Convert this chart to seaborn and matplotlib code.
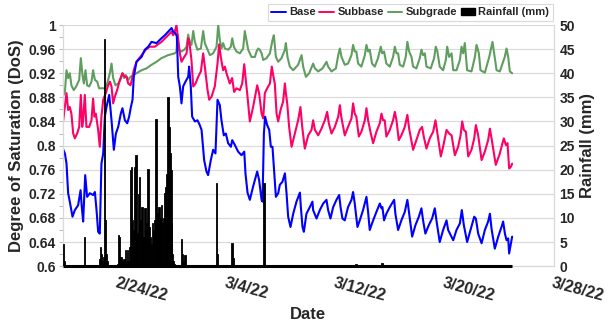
import numpy as np
import pandas as pd
import matplotlib
matplotlib.use('Agg')
import matplotlib.pyplot as plt
import matplotlib.dates as mdates
from matplotlib.lines import Line2D
from matplotlib.patches import Patch
from matplotlib.ticker import MultipleLocator, FuncFormatter
import seaborn as sns

# days since 2/20/22 00:00
START = pd.Timestamp('2022-02-20')

base_days = [0.0, 0.15, 0.27, 0.39, 0.51, 0.71, 0.88, 1.12, 1.30, 1.39, 1.49, 1.64, 1.78, 1.98,
             2.22, 2.35, 2.47, 2.59, 2.71, 2.83, 2.96, 3.08, 3.20, 3.40, 3.57, 3.74, 3.89, 4.06,
             4.25, 4.37, 4.55, 4.72, 4.86, 4.99, 5.11, 5.20, 5.40, 5.77, 6.01, 6.26, 6.50, 6.87,
             7.23, 7.48, 7.72, 7.97, 8.09, 8.26, 8.36, 8.46, 8.58, 8.70, 8.82, 8.99, 9.19, 9.26,
             9.38, 9.48, 9.68, 9.87, 10.04, 10.17, 10.36, 10.53, 10.65, 10.85, 11.02, 11.19,
             11.34, 11.51, 11.63, 11.80, 11.95, 12.12, 12.32, 12.42, 12.61, 12.85, 13.10, 13.30,
             13.39, 13.54, 13.71, 13.95, 14.25, 14.39, 14.57, 14.64, 14.74, 14.83, 14.98, 15.13,
             15.25, 15.37, 15.47, 15.62, 15.79, 15.91, 16.10, 16.28, 16.40, 16.52, 16.69, 16.89,
             17.13, 17.38, 17.45, 17.57, 17.67, 17.86, 18.11, 18.30, 18.35, 18.60, 18.84, 19.09,
             19.33, 19.45, 19.62, 19.82, 20.06, 20.26, 20.36, 20.50, 20.67, 20.91, 21.16, 21.28,
             21.40, 21.60, 21.77, 22.01, 22.26, 22.38, 22.50, 22.75, 22.99, 23.24, 23.36, 23.43,
             23.55, 23.72, 23.97, 24.29, 24.38, 24.58, 24.82, 25.07, 25.26, 25.39, 25.61, 25.85,
             26.10, 26.29, 26.41, 26.58, 26.83, 27.07, 27.27, 27.39, 27.63, 27.88, 28.13, 28.25,
             28.62, 28.86, 29.11, 29.25, 29.40, 29.64, 29.89, 30.16, 30.28, 30.45, 30.70, 30.94,
             31.18, 31.31, 31.43, 31.67, 31.92, 32.16, 32.28, 32.41, 32.53, 32.65, 32.72, 32.85,
             32.94]
base_dos = [0.795, 0.787, 0.770, 0.721, 0.707, 0.682, 0.693, 0.701, 0.726, 0.698, 0.674, 0.751,
            0.715, 0.721, 0.718, 0.723, 0.693, 0.657, 0.654, 0.770, 0.787, 0.848, 0.864, 0.884,
            0.842, 0.793, 0.820, 0.831, 0.853, 0.862, 0.842, 0.837, 0.848, 0.864, 0.876, 0.914,
            0.939, 0.947, 0.959, 0.964, 0.972, 0.970, 0.978, 0.983, 0.989, 0.995, 0.989, 0.986,
            0.981, 0.914, 0.898, 0.870, 0.898, 0.906, 0.914, 0.931, 0.898, 0.848, 0.840, 0.842,
            0.834, 0.826, 0.776, 0.757, 0.751, 0.776, 0.793, 0.787, 0.876, 0.867, 0.842, 0.817,
            0.820, 0.804, 0.798, 0.809, 0.801, 0.790, 0.784, 0.790, 0.754, 0.722, 0.710, 0.732,
            0.757, 0.743, 0.710, 0.707, 0.820, 0.848, 0.834, 0.826, 0.798, 0.798, 0.765, 0.715,
            0.721, 0.735, 0.740, 0.754, 0.721, 0.682, 0.665, 0.687, 0.707, 0.722, 0.698, 0.665,
            0.657, 0.687, 0.698, 0.707, 0.693, 0.679, 0.693, 0.704, 0.710, 0.693, 0.679, 0.698,
            0.710, 0.718, 0.698, 0.679, 0.676, 0.698, 0.710, 0.723, 0.704, 0.665, 0.676, 0.693,
            0.715, 0.690, 0.660, 0.676, 0.690, 0.704, 0.696, 0.698, 0.676, 0.687, 0.698, 0.710,
            0.687, 0.660, 0.676, 0.690, 0.710, 0.687, 0.649, 0.668, 0.682, 0.696, 0.676, 0.654,
            0.668, 0.679, 0.696, 0.676, 0.640, 0.660, 0.676, 0.660, 0.643, 0.660, 0.671, 0.693,
            0.668, 0.640, 0.660, 0.682, 0.679, 0.654, 0.638, 0.660, 0.674, 0.687, 0.662, 0.629,
            0.649, 0.665, 0.674, 0.654, 0.643, 0.646, 0.621, 0.638, 0.649]

subbase_days = [0.0, 0.15, 0.27, 0.39, 0.51, 0.63, 0.76, 0.88, 1.05, 1.20, 1.32, 1.42, 1.49, 1.61,
                1.73, 1.93, 2.10, 2.22, 2.32, 2.42, 2.59, 2.71, 2.83, 2.96, 3.15, 3.32, 3.45, 3.57,
                3.69, 3.81, 3.98, 4.18, 4.37, 4.55, 4.67, 4.79, 4.96, 5.11, 5.20, 5.40, 5.77, 6.08,
                6.38, 6.74, 7.23, 7.72, 7.97, 8.09, 8.21, 8.33, 8.46, 8.58, 8.70, 8.90, 9.07, 9.19,
                9.26, 9.43, 9.56, 9.73, 9.92, 10.12, 10.29, 10.41, 10.61, 10.73, 10.90, 11.14,
                11.34, 11.46, 11.58, 11.75, 11.88, 12.00, 12.24, 12.41, 12.56, 12.73, 12.98, 13.15,
                13.30, 13.39, 13.54, 13.71, 13.95, 14.25, 14.39, 14.57, 14.69, 14.81, 14.98, 15.18,
                15.32, 15.42, 15.54, 15.67, 15.79, 15.96, 16.15, 16.28, 16.35, 16.45, 16.59, 16.77,
                17.01, 17.25, 17.42, 17.55, 17.74, 17.99, 18.23, 18.35, 18.48, 18.72, 18.96, 19.21,
                19.38, 19.50, 19.70, 19.94, 20.19, 20.31, 20.41, 20.55, 20.67, 20.91, 21.16, 21.28,
                21.40, 21.52, 21.70, 21.89, 22.14, 22.26, 22.38, 22.58, 22.75, 22.99, 23.24, 23.36,
                23.48, 23.60, 23.72, 23.97, 24.21, 24.34, 24.46, 24.63, 24.82, 25.07, 25.26, 25.39,
                25.68, 25.92, 26.17, 26.34, 26.46, 26.66, 26.90, 27.15, 27.32, 27.46, 27.71, 27.88,
                28.13, 28.32, 28.50, 28.74, 28.98, 29.16, 29.28, 29.40, 29.55, 29.72, 29.96, 30.16,
                30.28, 30.45, 30.70, 30.94, 31.18, 31.31, 31.43, 31.74, 32.04, 32.23, 32.33, 32.48,
                32.60, 32.72, 32.85, 32.94]
subbase_dos = [0.837, 0.864, 0.887, 0.859, 0.864, 0.853, 0.820, 0.812, 0.820, 0.831, 0.884, 0.831,
               0.842, 0.884, 0.831, 0.831, 0.842, 0.878, 0.848, 0.853, 0.826, 0.798, 0.848, 0.876,
               0.887, 0.900, 0.906, 0.898, 0.870, 0.881, 0.892, 0.909, 0.920, 0.914, 0.914, 0.903,
               0.900, 0.914, 0.925, 0.939, 0.950, 0.959, 0.964, 0.964, 0.972, 0.983, 0.989, 0.983,
               0.989, 1.000, 0.975, 0.953, 0.939, 0.947, 0.953, 0.978, 0.975, 0.942, 0.898, 0.903,
               0.914, 0.923, 0.953, 0.931, 0.892, 0.876, 0.881, 0.898, 0.936, 0.968, 0.947, 0.925,
               0.931, 0.920, 0.903, 0.912, 0.889, 0.895, 0.892, 0.903, 0.935, 0.914, 0.881, 0.840,
               0.864, 0.900, 0.887, 0.853, 0.845, 0.887, 0.895, 0.903, 0.931, 0.917, 0.903, 0.853,
               0.840, 0.859, 0.873, 0.903, 0.887, 0.870, 0.831, 0.798, 0.820, 0.842, 0.864, 0.831,
               0.795, 0.817, 0.826, 0.842, 0.826, 0.817, 0.828, 0.842, 0.856, 0.837, 0.820, 0.831,
               0.848, 0.867, 0.848, 0.831, 0.817, 0.831, 0.845, 0.870, 0.853, 0.848, 0.815, 0.823,
               0.842, 0.862, 0.842, 0.820, 0.804, 0.823, 0.837, 0.853, 0.842, 0.842, 0.815, 0.826,
               0.842, 0.856, 0.842, 0.809, 0.817, 0.831, 0.851, 0.828, 0.793, 0.809, 0.826, 0.831,
               0.815, 0.795, 0.812, 0.823, 0.842, 0.820, 0.782, 0.798, 0.826, 0.820, 0.817, 0.784,
               0.798, 0.817, 0.840, 0.826, 0.823, 0.782, 0.793, 0.812, 0.834, 0.817, 0.776, 0.790,
               0.809, 0.828, 0.812, 0.768, 0.787, 0.804, 0.812, 0.801, 0.804, 0.762, 0.765, 0.770]

subgrade_days = [0.0, 0.15, 0.27, 0.39, 0.51, 0.63, 0.80, 0.98, 1.20, 1.32, 1.44, 1.54, 1.66, 1.78,
                 1.93, 2.10, 2.22, 2.35, 2.52, 2.66, 2.91, 3.08, 3.25, 3.45, 3.57, 3.69, 3.86, 4.06,
                 4.23, 4.37, 4.50, 4.62, 4.79, 4.96, 5.16, 5.40, 5.77, 6.13, 6.50, 6.87, 7.23, 7.72,
                 8.21, 8.33, 8.41, 8.50, 8.70, 8.90, 9.07, 9.19, 9.31, 9.43, 9.56, 9.68, 9.87, 10.12,
                 10.29, 10.41, 10.61, 10.78, 11.02, 11.27, 11.39, 11.51, 11.63, 11.75, 11.88, 12.12,
                 12.32, 12.42, 12.54, 12.73, 12.98, 13.22, 13.34, 13.46, 13.59, 13.83, 14.08, 14.20,
                 14.32, 14.44, 14.57, 14.69, 14.93, 15.18, 15.37, 15.47, 15.62, 15.79, 16.03, 16.28,
                 16.35, 16.47, 16.64, 16.89, 17.25, 17.50, 17.62, 17.82, 18.06, 18.35, 18.48, 18.72,
                 19.04, 19.33, 19.45, 19.70, 20.02, 20.19, 20.31, 20.43, 20.67, 20.91, 21.16, 21.28,
                 21.40, 21.52, 21.65, 21.89, 22.14, 22.26, 22.38, 22.50, 22.67, 22.87, 23.11, 23.31,
                 23.41, 23.55, 23.72, 23.97, 24.21, 24.34, 24.46, 24.58, 24.70, 24.95, 25.14, 25.26,
                 25.39, 25.56, 25.68, 25.92, 26.17, 26.29, 26.41, 26.54, 26.66, 26.97, 27.22, 27.34,
                 27.46, 27.63, 27.88, 28.08, 28.18, 28.32, 28.50, 28.62, 28.86, 29.11, 29.23, 29.35,
                 29.47, 29.64, 29.96, 30.21, 30.33, 30.50, 30.62, 30.94, 31.26, 31.50, 31.62, 31.80,
                 32.04, 32.40, 32.53, 32.65, 32.77, 32.94]
subgrade_dos = [0.881, 0.889, 0.925, 0.912, 0.920, 0.900, 0.892, 0.898, 0.909, 0.945, 0.917, 0.903,
                0.925, 0.900, 0.898, 0.906, 0.925, 0.909, 0.906, 0.895, 0.895, 0.895, 0.903, 0.920,
                0.936, 0.912, 0.900, 0.903, 0.909, 0.920, 0.912, 0.917, 0.909, 0.914, 0.917, 0.920,
                0.925, 0.928, 0.934, 0.939, 0.945, 0.950, 0.953, 0.956, 0.984, 0.959, 0.956, 0.959,
                0.964, 0.984, 0.970, 0.967, 0.990, 0.972, 0.959, 0.961, 0.990, 0.970, 0.959, 0.950,
                0.953, 0.964, 1.000, 0.975, 0.961, 0.970, 0.961, 0.959, 0.964, 0.978, 0.964, 0.956,
                0.953, 0.961, 0.990, 0.975, 0.959, 0.947, 0.947, 0.956, 0.961, 0.959, 0.953, 0.942,
                0.945, 0.953, 0.975, 0.983, 0.947, 0.939, 0.945, 0.959, 0.970, 0.947, 0.931, 0.925,
                0.934, 0.950, 0.931, 0.914, 0.920, 0.936, 0.928, 0.923, 0.928, 0.939, 0.931, 0.923,
                0.928, 0.950, 0.961, 0.947, 0.934, 0.936, 0.950, 0.967, 0.956, 0.956, 0.936, 0.931,
                0.950, 0.967, 0.956, 0.959, 0.936, 0.931, 0.945, 0.964, 0.953, 0.956, 0.936, 0.931,
                0.947, 0.964, 0.953, 0.953, 0.934, 0.931, 0.947, 0.972, 0.956, 0.947, 0.931, 0.928,
                0.945, 0.959, 0.950, 0.953, 0.931, 0.928, 0.945, 0.964, 0.956, 0.931, 0.925, 0.942,
                0.964, 0.947, 0.953, 0.925, 0.925, 0.942, 0.964, 0.953, 0.970, 0.925, 0.923, 0.947,
                0.967, 0.953, 0.925, 0.921, 0.947, 0.972, 0.953, 0.925, 0.923, 0.947, 0.961, 0.947,
                0.923, 0.920]

rain_days = [0.04, 0.12, 1.58, 2.70, 2.76, 2.82, 2.90, 2.98, 3.05, 3.12, 3.18, 3.25,
             4.00, 4.08, 4.17, 4.25, 4.33, 4.42, 4.50, 4.58, 4.67, 4.75, 4.83, 4.90,
             4.96, 5.04, 5.12, 5.21, 5.29, 5.37, 5.45, 5.54, 5.62, 5.70, 5.79, 5.87,
             5.95, 6.04, 6.12, 6.20, 6.26, 6.33, 6.41, 6.49, 6.58, 6.66, 6.74, 6.82,
             6.90, 6.98, 7.06, 7.14, 7.22, 7.30, 7.38, 7.45, 7.52, 7.60, 7.66, 7.72,
             7.79, 7.84, 7.92, 7.98, 8.05, 8.12, 8.20, 8.70, 8.78, 8.86, 8.94, 11.27,
             11.33, 12.41, 12.47, 14.74, 14.80, 15.40, 19.90, 21.10, 21.50, 23.40]
rain_mm = [4.6, 1.0, 6.0, 1.5, 3.9, 2.6, 1.0, 2.0, 47.0, 9.5, 2.6, 1.0,
           0.5, 6.4, 6.0, 2.0, 1.0, 0.8, 1.5, 3.3, 1.0, 3.3, 1.0, 4.0,
           19.9, 20.6, 9.5, 7.5, 20.6, 23.0, 6.8, 15.0, 18.5, 9.5, 12.3, 6.0,
           5.0, 12.0, 9.0, 7.0, 20.1, 8.1, 6.0, 4.5, 9.0, 7.5, 9.5, 30.6,
           9.5, 11.0, 12.3, 10.0, 12.6, 9.0, 10.0, 15.1, 16.4, 19.2, 12.0, 35.1,
           28.9, 23.4, 19.9, 9.0, 2.6, 1.0, 0.4, 5.7, 2.6, 1.0, 2.3, 17.2,
           2.6, 4.9, 1.6, 17.2, 0.5, 0.3, 0.3, 0.3, 0.5, 0.6]

dos_ticks = [0.6, 0.64, 0.68, 0.72, 0.76, 0.8, 0.84, 0.88, 0.92, 0.96, 1.0]
rain_ticks = [0, 5, 10, 15, 20, 25, 30, 35, 40, 45, 50]
date_ticks = ['2022-02-24', '2022-03-04', '2022-03-12', '2022-03-20', '2022-03-28']

COLORS = {'Base': '#0000ff', 'Subbase': '#ff0066', 'Subgrade': '#5f9e5f'}


def to_dates(days):
    return START + pd.to_timedelta(np.asarray(days), unit='D')


sns.set_theme(style='white')
plt.rcParams['font.family'] = ['Liberation Sans', 'DejaVu Sans']
plt.rcParams['font.weight'] = 'bold'
plt.rcParams['axes.labelweight'] = 'bold'

fig, ax = plt.subplots(figsize=(6.10, 3.29), dpi=100)
fig.subplots_adjust(left=0.103, right=0.908, top=0.924, bottom=0.191)

series = [('Base', base_days, base_dos),
          ('Subbase', subbase_days, subbase_dos),
          ('Subgrade', subgrade_days, subgrade_dos)]
for name, days, vals in series[::-1]:
    sns.lineplot(x=to_dates(days), y=vals, ax=ax, color=COLORS[name], lw=1.5,
                 legend=False, sort=False)

ax.set_ylim(dos_ticks[0], dos_ticks[-1])
ax.set_yticks(dos_ticks)
ax.yaxis.set_major_formatter(FuncFormatter(lambda v, p: f'{v:g}'))
ax.yaxis.set_minor_locator(MultipleLocator(0.02))
ax.grid(axis='y', color='#d9d9d9', lw=0.8)
ax.set_axisbelow(True)

ax.set_xlim(START, pd.Timestamp('2022-03-28'))
ax.set_xticks(pd.to_datetime(date_ticks))
ax.xaxis.set_major_formatter(FuncFormatter(
    lambda v, p: (lambda d: f'{d.month}/{d.day}/{d:%y}')(mdates.num2date(v))))
for lab in ax.get_xticklabels():
    lab.set_rotation(-15)
    lab.set_ha('left')
    lab.set_rotation_mode('anchor')

ax.tick_params(axis='x', length=4, color='#bfbfbf', width=0.8, labelsize=11.5, pad=3)
ax.tick_params(axis='y', which='both', left=True, length=3, color='#bfbfbf', width=0.8,
               labelsize=10, pad=2)
ax.set_ylabel('Degree of Saturation (DoS)', fontsize=12, labelpad=3)
ax.set_xlabel('Date', fontsize=12, labelpad=2)

ax2 = ax.twinx()
ax2.bar(to_dates(rain_days), rain_mm, width=0.11, color='black', edgecolor='black',
        lw=0.6, zorder=3)
ax2.hlines(0, to_dates(base_days[:1])[0], to_dates(base_days[-1:])[0], color='black',
           lw=2.2, clip_on=False, zorder=3)
ax2.set_ylim(rain_ticks[0], rain_ticks[-1])
ax2.set_yticks(rain_ticks)
ax2.tick_params(axis='y', right=True, length=0, labelsize=10, pad=4)
ax2.set_ylabel('Rainfall (mm)', fontsize=12, labelpad=4)
ax2.grid(False)

for a in (ax, ax2):
    a.spines['top'].set_visible(False)
    for s in ('left', 'right', 'bottom'):
        a.spines[s].set_color('#d9d9d9')
        a.spines[s].set_linewidth(0.8)

handles = [Line2D([], [], color=COLORS[n], lw=1.4) for n, _, _ in series]
handles.append(Patch(facecolor='black', edgecolor='black'))
labels = [n for n, _, _ in series] + ['Rainfall (mm)']
leg = fig.legend(handles, labels, loc='upper right', bbox_to_anchor=(0.906, 0.988), ncol=4,
                 frameon=True, fancybox=False, edgecolor='#d0d0d0', fontsize=8,
                 handlelength=1.3, handleheight=0.5, handletextpad=0.3, columnspacing=0.35,
                 borderpad=0.3, borderaxespad=0)
leg.get_frame().set_linewidth(0.8)
for t in leg.get_texts():
    t.set_fontweight('bold')

fig.savefig('out.png', dpi=100)
